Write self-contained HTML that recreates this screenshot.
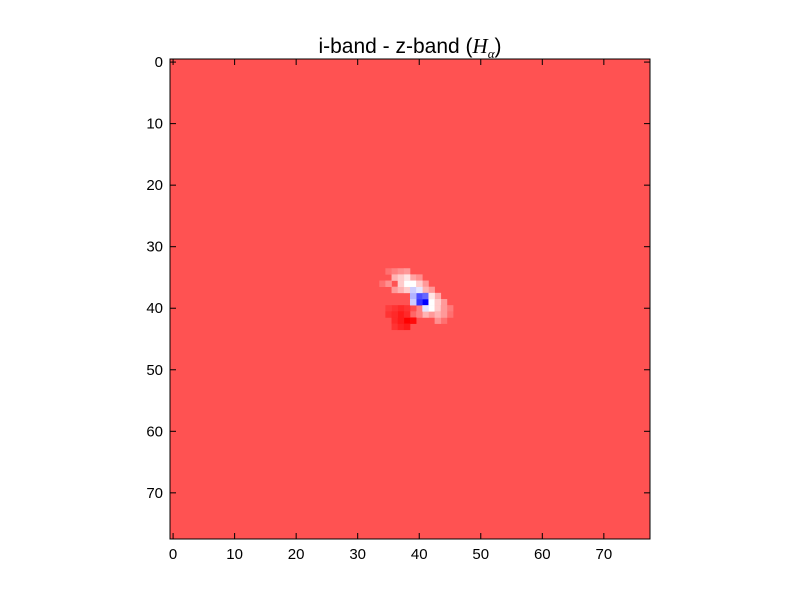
<!DOCTYPE html>
<html><head><meta charset="utf-8"><style>
body{margin:0;background:#fff;}
svg text{font-family:"Liberation Sans",sans-serif;}
</style></head><body>
<svg id="chart" width="800" height="600" xmlns="http://www.w3.org/2000/svg">
<rect width="800" height="600" fill="#fff"/>
<text x="410" y="53" font-size="21" text-anchor="middle">i-band - z-band (<tspan font-family="Liberation Serif" font-style="italic">H</tspan><tspan font-family="Liberation Serif" font-style="italic" font-size="13" dy="5">α</tspan><tspan dy="-5">)</tspan></text>
<g id="cells"></g>
<g id="axes"></g>
</svg>
<script>
const nCols = 78, nRows = 78;
const backgroundValue = 0.84;
const anomalyCols = [35,36,37,38,39,40,34,35,36,41,42,37,38,39,40,41,43,44,45,45,44,43,42,41,40,39,38,37,36,35,35,36,36,37,39,40,
  41,40,40,41,39,39,39,40,38,39,38,37,40,36,37,42,42,41,43,43,42,43,44,44,38,39,37,37,38,38,36];
const anomalyRows = [34,34,34,34,35,35,36,36,37,36,37,37,37,38,37,37,38,39,40,41,42,42,41,41,40,40,40,40,40,40,41,42,43,43,41,41,
  39,39,38,38,38,37,39,37,36,36,35,36,36,35,35,39,40,40,40,39,38,41,41,40,42,42,42,41,41,43,41];
const anomalyValues = [0.78,0.75,0.72,0.7,0.68,0.72,0.78,0.72,0.7,0.7,0.7,0.65,0.6,0.55,0.62,0.65,0.66,0.7,0.76,0.78,0.78,0.72,0.7,0.65,0.75,0.85,0.9,0.92,0.9,0.88,0.9,0.92,0.9,0.93,0.8,0.75,
  0.0,0.1,0.15,0.2,0.35,0.4,0.4,0.45,0.5,0.5,0.55,0.6,0.6,0.65,0.6,0.5,0.5,0.45,0.6,0.6,0.55,0.65,0.7,0.7,1.0,0.98,0.95,0.95,0.92,0.95,0.92];
const tickValues = [0,10,20,30,40,50,60,70];
const tickLabels = ["0","10","20","30","40","50","60","70"];

const L=170,T=59,W=480,H=480;
const cw=W/nCols, ch=H/nRows;
const xs=v=>L+(v+0.5)*cw;
const ys=v=>T+(v+0.5)*ch;
function bwr(v){
  let r,g,b;
  if(v<0.5){r=g=Math.round(255*v*2);b=255;}
  else{r=255;g=b=Math.round(255*(1-v)*2);}
  return `rgb(${r},${g},${b})`;
}
const NS="http://www.w3.org/2000/svg";
const cells=document.getElementById('cells');
const bg=document.createElementNS(NS,'rect');
bg.setAttribute('x',L);bg.setAttribute('y',T);bg.setAttribute('width',W);bg.setAttribute('height',H);
bg.setAttribute('fill',bwr(backgroundValue));


cells.appendChild(bg);
anomalyValues.forEach((v,i)=>{
  const r=document.createElementNS(NS,'rect');
  r.setAttribute('x',xs(anomalyCols[i])-cw/2);
  r.setAttribute('y',ys(anomalyRows[i])-ch/2);
  r.setAttribute('width',cw+0.3);r.setAttribute('height',ch+0.3);
  r.setAttribute('fill',bwr(v));
  
  
  cells.appendChild(r);
});
const axes=document.getElementById('axes');
const frame=document.createElementNS(NS,'rect');
frame.setAttribute('x',L);frame.setAttribute('y',T);frame.setAttribute('width',W);frame.setAttribute('height',H);
frame.setAttribute('fill','none');frame.setAttribute('stroke','#000');frame.setAttribute('stroke-width','1');


axes.appendChild(frame);
function line(x1,y1,x2,y2,name){
  const l=document.createElementNS(NS,'line');
  l.setAttribute('x1',x1);l.setAttribute('y1',y1);l.setAttribute('x2',x2);l.setAttribute('y2',y2);
  l.setAttribute('stroke','#000');l.setAttribute('stroke-width','1');
  
  
  axes.appendChild(l);
}
function text(x,y,s,anchor,name){
  const t=document.createElementNS(NS,'text');
  t.setAttribute('x',x);t.setAttribute('y',y);t.setAttribute('font-size','15');
  t.setAttribute('text-anchor',anchor);t.textContent=s;
  
  
  axes.appendChild(t);
}
tickValues.forEach((v,i)=>{
  const x=xs(v), y=ys(v);
  line(x,T+H,x,T+H-6,'x-tick');
  line(x,T,x,T+6,'x-tick-top');
  line(L,y,L+6,y,'y-tick');
  line(L+W,y,L+W-6,y,'y-tick-right');
  text(x,T+H+20,tickLabels[i],'middle','x-tick-label');
  text(L-7,y+5,tickLabels[i],'end','y-tick-label');
});
</script>
</body></html>
